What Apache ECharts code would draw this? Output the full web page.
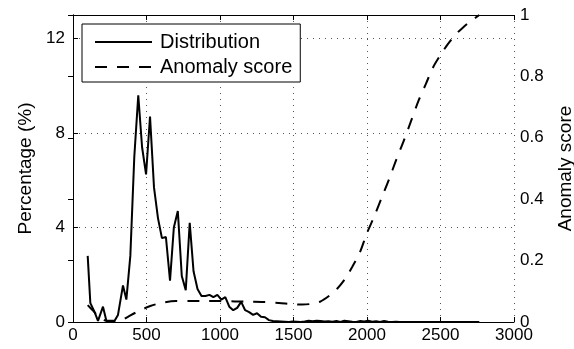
<!DOCTYPE html>
<html>
<head>
<meta charset="utf-8">
<script src="https://cdn.jsdelivr.net/npm/echarts@6/dist/echarts.min.js"></script>
<style>
html,body{margin:0;padding:0;background:#fff;}
#chart{width:574px;height:349px;}
</style>
</head>
<body>
<div id="chart"></div>
<script>
// Distribution (%) sampled along x
var distX = [100,118,145,170,204,227,255,283,306,340,
  363,390,417,444,470,497,524,551,578,605,
  632,660,686,713,740,767,794,820,847,874,
  901,928,955,982,1009,1036,1063,1090,1117,1144,
  1171,1198,1225,1252,1279,1306,1333,1360,1387,1414,
  1441,1468,1495,1522,1549,1576,1603,1630,1657,1684,
  1711,1738,1765,1792,1819,1846,1873,1900,1927,1954,
  1981,2008,2035,2062,2089,2116,2143,2170,2197,2224,
  2251,2278,2305,2332,2359,2386,2413,2440,2467,2494,
  2521,2548,2575,2602,2629,2656,2683,2710,2737,2764];
var distY = [2.8,0.8,0.45,0.05,0.65,0.05,0.05,0.05,0.3,1.55,
  0.95,2.8,7.0,9.6,7.4,6.25,8.7,5.7,4.4,3.55,
  3.6,1.75,4.0,4.7,1.95,1.35,4.2,2.15,1.4,1.1,
  1.1,1.15,1.05,1.15,0.95,1.05,0.65,0.5,0.6,0.85,
  0.5,0.42,0.3,0.37,0.22,0.2,0.08,0.04,0.03,0.02,
  0.01,0.0,0.02,0.01,0.0,0.02,0.05,0.03,0.05,0.04,
  0.02,0.03,0.01,0.04,0.0,0.05,0.03,0.01,0.0,0.04,
  0.02,0.05,0.01,0.03,0.0,0.04,0.01,0.0,0.01,0.0,
  0,0,0,0,0,0,0,0,0,0,
  0,0,0,0,0,0,0,0,0,0];
// Anomaly score
var scoreX = [100,136,180,230,280,330,374,449,526,608,
  700,800,900,1000,1100,1200,1300,1400,1500,1560,
  1620,1680,1750,1800,1850,1900,1950,2000,2050,2100,
  2150,2200,2250,2300,2350,2400,2450,2500,2550,2600,
  2650,2700,2764];
var scoreY = [0.055,0.037,0.015,0.003,0.0,0.005,0.017,0.036,0.052,0.063,
  0.068,0.068,0.068,0.068,0.067,0.066,0.065,0.062,0.058,0.057,
  0.059,0.066,0.088,0.11,0.14,0.18,0.225,0.29,0.345,0.405,
  0.465,0.53,0.59,0.655,0.72,0.775,0.83,0.87,0.905,0.935,
  0.958,0.978,1.0];
var xTicks = [0,500,1000,1500,2000,2500,3000];
var leftTicks = [0,4,8,12];
var rightTicks = [0,0.2,0.4,0.6,0.8,1];

function zip(a,b){ return a.map(function(v,i){ return [v,b[i]]; }); }

var FONT = "'Liberation Sans', Arial, Helvetica, sans-serif";
var chart = echarts.init(document.getElementById('chart'), null, {renderer:'canvas'});
var dotted = {color:'#555', width:1, type:[1,5]};
chart.setOption({
  animation:false,
  backgroundColor:'#fff',
  textStyle:{fontFamily:FONT, color:'#000'},
  grid:{left:73, right:60, top:15, bottom:27, show:false, containLabel:false, outerBoundsMode:'none'},
  legend:{
    orient:'vertical', left:82, top:24,
    itemWidth:57, itemHeight:14, itemGap:5,
    padding:[8,8,5,12],
    borderColor:'#000', borderWidth:1, backgroundColor:'#fff',
    itemStyle:{opacity:0, borderWidth:0},
    textStyle:{fontSize:20, fontFamily:FONT, color:'#000', lineHeight:20, padding:[0,0,0,3]},
    data:['Distribution','Anomaly score']
  },
  xAxis:[{
    type:'value', min:xTicks[0], max:xTicks[xTicks.length-1], interval:xTicks[1]-xTicks[0],
    axisLine:{show:true, lineStyle:{color:'#000', width:1}},
    axisTick:{show:true, inside:true, length:5, lineStyle:{color:'#000'}},
    axisLabel:{fontSize:17, color:'#000', fontFamily:FONT, margin:5,
      formatter:function(v){ return String(v); }},
    splitLine:{show:true, lineStyle:dotted}
  },{
    type:'value', position:'top', min:xTicks[0], max:xTicks[xTicks.length-1], interval:xTicks[1]-xTicks[0],
    axisLine:{show:true, onZero:false, lineStyle:{color:'#000', width:1}},
    axisTick:{show:true, inside:true, length:5, lineStyle:{color:'#000'}},
    axisLabel:{show:false}, splitLine:{show:false}
  }],
  yAxis:[{
    type:'value', min:0, max:13, interval:leftTicks[1]-leftTicks[0],
    name:'Percentage (%)', nameLocation:'middle', nameGap:37, nameRotate:90,
    nameTextStyle:{fontSize:19, fontFamily:FONT, color:'#000'},
    axisLine:{show:true, lineStyle:{color:'#000', width:1}},
    axisTick:{show:true, inside:true, length:5, lineStyle:{color:'#000'}},
    axisLabel:{fontSize:17, color:'#000', fontFamily:FONT, margin:8,
      formatter:function(v){ return leftTicks.indexOf(v)>=0 ? String(v) : ''; }},
    splitLine:{show:true, lineStyle:dotted}
  },{
    type:'value', position:'right', min:0, max:1, interval:rightTicks[1]-rightTicks[0],
    name:'Anomaly score', nameLocation:'middle', nameGap:42, nameRotate:90,
    nameTextStyle:{fontSize:19, fontFamily:FONT, color:'#000'},
    axisLine:{show:true, lineStyle:{color:'#000', width:1}},
    axisTick:{show:true, inside:true, length:5, lineStyle:{color:'#000'}},
    axisLabel:{fontSize:17, color:'#000', fontFamily:FONT, margin:6},
    splitLine:{show:false}
  }],
  series:[{
    name:'Distribution', type:'line', xAxisIndex:0, yAxisIndex:0,
    data:zip(distX,distY), symbol:'none', showSymbol:false,
    lineStyle:{color:'#000', width:2, type:'solid'}, itemStyle:{color:'#000'}
  },{
    name:'Anomaly score', type:'line', xAxisIndex:0, yAxisIndex:1,
    data:zip(scoreX,scoreY), symbol:'none', showSymbol:false, smooth:0.3,
    lineStyle:{color:'#000', width:2, type:[12,10]}, itemStyle:{color:'#000'}
  }]
});
</script>
</body>
</html>
